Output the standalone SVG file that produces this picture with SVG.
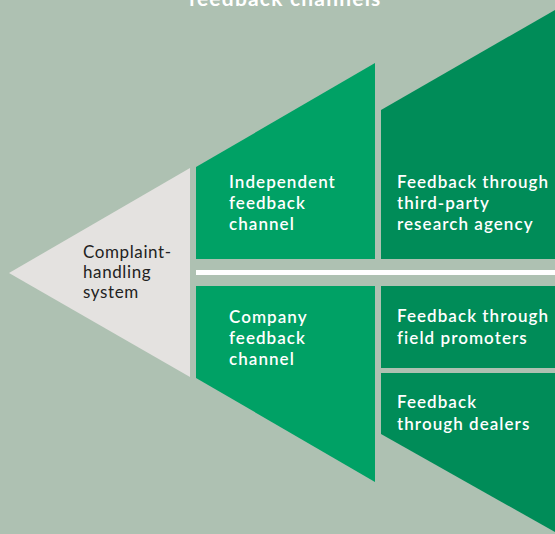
<svg xmlns="http://www.w3.org/2000/svg" width="555" height="534" viewBox="0 0 555 534">
<style>
.bg{fill:#AEC1B2}
.core{fill:#E4E2E0}
.l1{fill:#00A165}
.l2{fill:#008C58}
.t{font-family:Lato,"Noto Sans",sans-serif;font-size:17px;font-weight:600;letter-spacing:1.05px;fill:#FFFFFF}
.c{font-family:Lato,"Noto Sans",sans-serif;font-size:17px;letter-spacing:0.6px;fill:#222222}
.title{font-family:Lato,"Noto Sans",sans-serif;font-size:21px;font-weight:700;letter-spacing:1.2px;fill:#FFFFFF}
</style>
<rect class="bg" x="0" y="0" width="555" height="534"/>
<text class="title" x="285" y="6" text-anchor="middle">feedback channels</text>
<g id="connectors">
<rect x="196" y="270" width="359" height="5" fill="#FFFFFF"/>
</g>
<g id="complaint-handling">
<polygon class="core" points="9,273 190,168 190,377"/>
<text class="c" x="83" y="258">Complaint-</text>
<text class="c" x="83" y="278">handling</text>
<text class="c" x="83" y="298">system</text>
</g>
<g id="independent">
<polygon class="l1" points="196,167 375,63 375,259 196,259"/>
<text class="t" x="229" y="188">Independent</text>
<text class="t" x="229" y="209">feedback</text>
<text class="t" x="229" y="230">channel</text>
</g>
<g id="company">
<polygon class="l1" points="196,286 375,286 375,482 196,378"/>
<text class="t" x="229" y="323">Company</text>
<text class="t" x="229" y="344">feedback</text>
<text class="t" x="229" y="365">channel</text>
</g>
<g id="third-party">
<polygon class="l2" points="381,110 555,10 555,259 381,259"/>
<text class="t" x="397" y="188">Feedback through</text>
<text class="t" x="397" y="209">third-party</text>
<text class="t" x="397" y="230">research agency</text>
</g>
<g id="field-promoters">
<rect class="l2" x="381" y="286" width="174" height="82"/>
<text class="t" x="397" y="322">Feedback through</text>
<text class="t" x="397" y="344">field promoters</text>
</g>
<g id="dealers">
<polygon class="l2" points="381,373 555,373 555,532 381,434"/>
<text class="t" x="397" y="408">Feedback</text>
<text class="t" x="397" y="430">through dealers</text>
</g>
</svg>
